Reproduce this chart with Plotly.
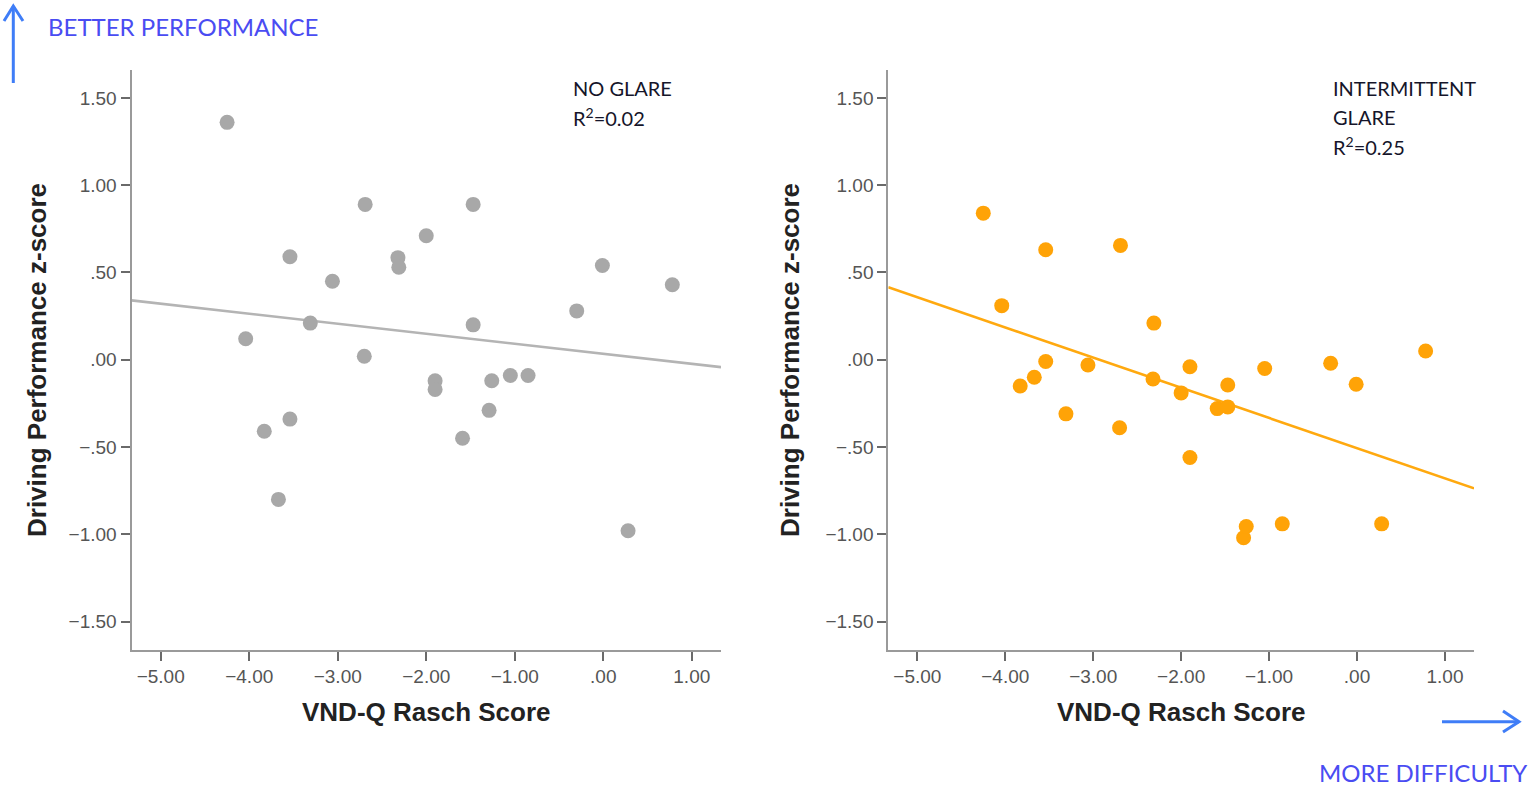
import numpy as np
import plotly.graph_objects as go

# VND-Q Rasch scores (same participants in both conditions)
vndq_score = [-4.25, -4.04, -3.83, -3.67, -3.54, -3.54, -3.31, -3.06, -2.70, -2.69,
              -2.32, -2.31, -2.00, -1.90, -1.90, -1.59, -1.47, -1.47, -1.29, -1.26,
              -1.05, -0.85, -0.30, -0.01, 0.28, 0.78]

# Driving performance z-scores, no glare
z_no_glare = [1.36, 0.12, -0.41, -0.80, 0.59, -0.34, 0.21, 0.45, 0.02, 0.89,
              0.585, 0.53, 0.71, -0.12, -0.17, -0.45, 0.20, 0.89, -0.29, -0.12,
              -0.09, -0.09, 0.28, 0.54, -0.98, 0.43]

# Driving performance z-scores, intermittent glare
z_glare = [0.84, 0.31, -0.15, -0.10, 0.63, -0.01, -0.31, -0.03, -0.39, 0.655,
           -0.11, 0.21, -0.19, -0.04, -0.56, -0.28, -0.145, -0.27, -1.02, -0.955,
           -0.05, -0.94, -0.02, -0.14, -0.94, 0.05]

x_ticks = [-5, -4, -3, -2, -1, 0, 1]
x_tick_text = ["\u22125.00", "\u22124.00", "\u22123.00", "\u22122.00", "\u22121.00", ".00", "1.00"]
y_ticks = [1.5, 1.0, 0.5, 0.0, -0.5, -1.0, -1.5]
y_tick_text = ["1.50", "1.00", ".50", ".00", "\u2212.50", "\u22121.00", "\u22121.50"]

x_range = [-5.33, 1.33]
y_range = [-1.66, 1.66]

panel_labels = [["NO GLARE", "R<sup>2</sup>=0.02"],
                ["INTERMITTENT", "GLARE", "R<sup>2</sup>=0.25"]]

GRAY = "#a8a8a8"
ORANGE = "#ffa307"

W, H = 1530, 786


def px(x):
    return x / W


def py(y):
    return 1 - y / H


fig = go.Figure()

x_arr = np.array(vndq_score)
x_line = np.array(x_range)
for z, color, lcolor, ax, ay in [
    (z_no_glare, GRAY, "#b4b4b4", "x", "y"),
    (z_glare, ORANGE, "#ffa90f", "x2", "y2"),
]:
    slope, intercept = np.polyfit(x_arr, np.array(z), 1)
    fig.add_trace(go.Scatter(
        x=x_line, y=slope * x_line + intercept, mode="lines",
        line=dict(color=lcolor, width=2.6), xaxis=ax, yaxis=ay,
        hoverinfo="skip", showlegend=False,
    ))
    fig.add_trace(go.Scatter(
        x=vndq_score, y=z, mode="markers",
        marker=dict(color=color, size=15, line=dict(width=0)),
        xaxis=ax, yaxis=ay, showlegend=False,
    ))

axis_common = dict(
    showline=True, linecolor="#9a9a9a", linewidth=2,
    ticks="outside", ticklen=9, tickwidth=2, tickcolor="#6a6a6a",
    showgrid=False, zeroline=False,
    tickfont=dict(family="Liberation Sans, Arial, sans-serif", size=19, color="#555555"),
)

y_dom = [py(649.5), py(70)]
fig.update_layout(
    width=W, height=H,
    margin=dict(l=0, r=0, t=0, b=0),
    paper_bgcolor="white", plot_bgcolor="white",
    xaxis=dict(domain=[px(131.5), px(721)], range=x_range, anchor="y",
               tickvals=x_ticks, ticktext=x_tick_text, **axis_common),
    yaxis=dict(domain=y_dom, range=y_range, anchor="x",
               tickvals=y_ticks, ticktext=y_tick_text, **axis_common),
    xaxis2=dict(domain=[px(888.3), px(1474)], range=x_range, anchor="y2",
                tickvals=x_ticks, ticktext=x_tick_text, **axis_common),
    yaxis2=dict(domain=y_dom, range=y_range, anchor="x2",
                tickvals=y_ticks, ticktext=y_tick_text, **axis_common),
)

title_font = dict(family="Liberation Sans, Arial, sans-serif", size=26, color="#222222")
annotations = []
# axis titles
for cx in (426, 1181):
    annotations.append(dict(text="<b>VND-Q Rasch Score</b>", x=px(cx), y=py(712),
                            xref="paper", yref="paper", showarrow=False,
                            xanchor="center", yanchor="middle", font=title_font))
for cx in (37, 790):
    annotations.append(dict(text="<b>Driving Performance z-score</b>", x=px(cx), y=py(360),
                            xref="paper", yref="paper", showarrow=False, textangle=-90,
                            xanchor="center", yanchor="middle", font=title_font))

# panel labels
label_font = dict(family="Lato, Open Sans, sans-serif", size=20, color="#15152a")
for left, lines, y0 in [(571, panel_labels[0], 88), (1331, panel_labels[1], 88)]:
    for i, t in enumerate(lines):
        annotations.append(dict(text=t, x=px(left), y=py(y0 + 29 * i),
                                xref="paper", yref="paper", showarrow=False,
                                xanchor="left", yanchor="middle", font=label_font))

# direction cues
cue_font = dict(family="Lato, Open Sans, sans-serif", size=24, color="#4a4cf2")
annotations.append(dict(text="BETTER PERFORMANCE", x=px(46), y=py(26),
                        xref="paper", yref="paper", showarrow=False,
                        xanchor="left", yanchor="middle", font=cue_font))
annotations.append(dict(text="MORE DIFFICULTY", x=px(1529), y=py(772),
                        xref="paper", yref="paper", showarrow=False,
                        xanchor="right", yanchor="middle", font=cue_font))
fig.update_layout(annotations=annotations)

ARROW = "#3f7df7"
arrow_style = dict(xref="paper", yref="paper", line=dict(color=ARROW, width=3))
shapes = [
    dict(type="line", x0=px(13.3), y0=py(83), x1=px(13.3), y1=py(6), **arrow_style),
    dict(type="path", path=f"M {px(4)},{py(21)} L {px(13.3)},{py(6)} L {px(23)},{py(21)}",
         **arrow_style),
    dict(type="line", x0=px(1442), y0=py(721.7), x1=px(1519), y1=py(721.7), **arrow_style),
    dict(type="path", path=f"M {px(1503)},{py(711)} L {px(1519)},{py(721.7)} L {px(1503)},{py(732)}",
         **arrow_style),
]
fig.update_layout(shapes=shapes)

fig.write_html("out.html")
